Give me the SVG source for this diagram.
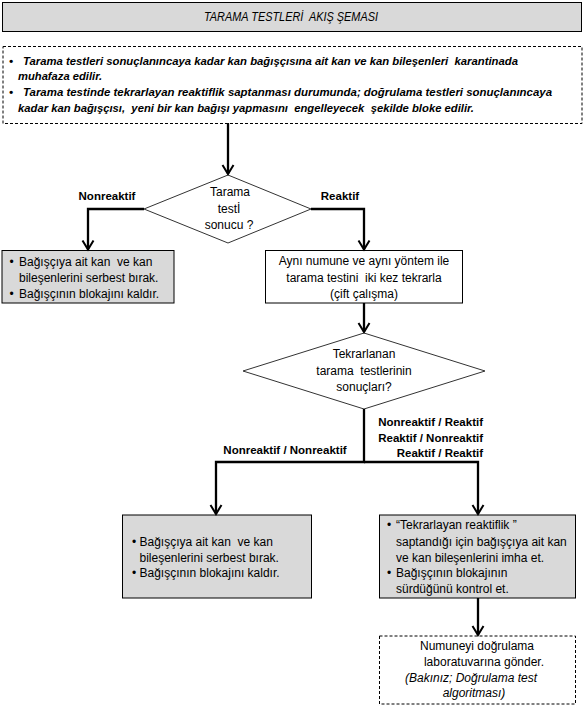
<svg xmlns="http://www.w3.org/2000/svg" width="585" height="706" viewBox="0 0 585 706">
<style>
text{font-family:"Liberation Sans",Arial,sans-serif;fill:#000;white-space:pre;}
.t{font-size:12px;}
.c{text-anchor:middle;}
.e{text-anchor:end;}
.b{font-weight:bold;font-size:11.5px;}
.bi{font-weight:bold;font-style:italic;font-size:11.5px;}
.i{font-style:italic;}
.box{stroke:#000;stroke-width:1;}
.gray{fill:#d9d9d9;}
.white{fill:#fff;}
.dash{stroke-dasharray:3,2;}
.dia{fill:#fff;stroke:#333;stroke-width:1;}
.conn{fill:none;stroke:#000;stroke-width:2.3;}
</style>
<defs>
<marker id="arr" markerUnits="userSpaceOnUse" markerWidth="16" markerHeight="16" viewBox="-12 -8 16 16" refX="0" refY="0" orient="auto" overflow="visible">
<path d="M-9,-5.5 L0,0 L-9,5.5" fill="none" stroke="#000" stroke-width="2"/>
</marker>
</defs>
<rect width="585" height="706" fill="#fff"/>

<g id="title">
<rect class="box gray" x="2.5" y="2.5" width="579" height="29"/>
<text class="t i c" x="291" y="20.5" textLength="174" lengthAdjust="spacingAndGlyphs">TARAMA TESTLERİ  AKIŞ ŞEMASI</text>
</g>

<g id="info">
<rect class="box white dash" x="3" y="46.5" width="579" height="77"/>
<text class="bi" x="9" y="64.5">•</text>
<text class="bi" x="23" y="64.5" textLength="495" lengthAdjust="spacingAndGlyphs">Tarama testleri sonuçlanıncaya kadar kan bağışçısına ait kan ve kan bileşenleri  karantinada</text>
<text class="bi" x="18" y="80" textLength="84" lengthAdjust="spacingAndGlyphs">muhafaza edilir.</text>
<text class="bi" x="9" y="96">•</text>
<text class="bi" x="23" y="96" textLength="529" lengthAdjust="spacingAndGlyphs">Tarama testinde tekrarlayan reaktiflik saptanması durumunda; doğrulama testleri sonuçlanıncaya</text>
<text class="bi" x="18" y="111.5" textLength="456" lengthAdjust="spacingAndGlyphs">kadar kan bağışçısı,  yeni bir kan bağışı yapmasını  engelleyecek  şekilde bloke edilir.</text>
</g>

<g id="decision1">
<polygon class="dia" points="228,175 311,209 228,243 144,209"/>
<text class="t c" x="230" y="196">Tarama</text>
<text class="t c" x="229" y="213">testİ</text>
<text class="t c" x="229" y="229">sonucu ?</text>
</g>

<g id="release1">
<rect class="box gray" x="2" y="250.5" width="172" height="52.5"/>
<text class="t" x="9.5" y="265.5">•</text>
<text class="t" x="19" y="265.5">Bağışçıya ait kan  ve kan</text>
<text class="t" x="19" y="281.5">bileşenlerini serbest bırak.</text>
<text class="t" x="9.5" y="297.5">•</text>
<text class="t" x="19" y="297.5">Bağışçının blokajını kaldır.</text>
</g>

<g id="repeat">
<rect class="box white" x="265.5" y="250.5" width="197" height="52.5"/>
<text class="t c" x="364" y="265">Aynı numune ve aynı yöntem ile</text>
<text class="t c" x="364" y="281.5">tarama testini  iki kez tekrarla</text>
<text class="t c" x="364" y="297.5">(çift çalışma)</text>
</g>

<g id="decision2">
<polygon class="dia" points="364,333 485,371 364,409 243,371"/>
<text class="t c" x="364" y="358">Tekrarlanan</text>
<text class="t c" x="364" y="375">tarama  testlerinin</text>
<text class="t c" x="364" y="391">sonuçları?</text>
</g>

<g id="release2">
<rect class="box gray" x="122.5" y="515" width="189" height="83"/>
<text class="t" x="132" y="545.5">•</text>
<text class="t" x="139.5" y="545.5">Bağışçıya ait kan  ve kan</text>
<text class="t" x="139.5" y="561.5">bileşenlerini serbest bırak.</text>
<text class="t" x="132" y="577">•</text>
<text class="t" x="139.5" y="577">Bağışçının blokajını kaldır.</text>
</g>

<g id="discard">
<rect class="box gray" x="379.5" y="515" width="196" height="83"/>
<text class="t" x="387" y="529">•</text>
<text class="t" x="396" y="529">“Tekrarlayan reaktiflik ”</text>
<text class="t" x="396" y="545.5">saptandığı için bağışçıya ait kan</text>
<text class="t" x="396" y="561.5">ve kan bileşenlerini imha et.</text>
<text class="t" x="387" y="577">•</text>
<text class="t" x="396" y="577">Bağışçının blokajının</text>
<text class="t" x="396" y="593">sürdüğünü kontrol et.</text>
</g>

<g id="confirm">
<rect class="box white dash" x="379.5" y="636" width="196" height="68"/>
<text class="t c" x="477" y="650">Numuneyi doğrulama</text>
<text class="t c" x="484" y="666">laboratuvarına gönder.</text>
<text class="t c i" x="471" y="681.5">(Bakınız; Doğrulama test</text>
<text class="t c i" x="474" y="697">algoritması)</text>
</g>

<g id="connectors">
<path class="conn" d="M228,123 V174" marker-end="url(#arr)"/>
<path class="conn" d="M144,209 H88 V249.5" marker-end="url(#arr)"/>
<path class="conn" d="M311,209 H364 V249.5" marker-end="url(#arr)"/>
<path class="conn" d="M364,303 V332" marker-end="url(#arr)"/>
<path class="conn" d="M364,409 V462 H216 V514" marker-end="url(#arr)"/>
<path class="conn" d="M364,462 H478 V514" marker-end="url(#arr)"/>
<path class="conn" d="M478,598 V635" marker-end="url(#arr)"/>
</g>

<g id="labels">
<text class="b c" x="107" y="200">Nonreaktif</text>
<text class="b c" x="340" y="200">Reaktif</text>
<text class="b e" x="483" y="426">Nonreaktif / Reaktif</text>
<text class="b e" x="483" y="441.5">Reaktif / Nonreaktif</text>
<text class="b e" x="483" y="457">Reaktif / Reaktif</text>
<text class="b c" x="285" y="454">Nonreaktif / Nonreaktif</text>
</g>
</svg>
